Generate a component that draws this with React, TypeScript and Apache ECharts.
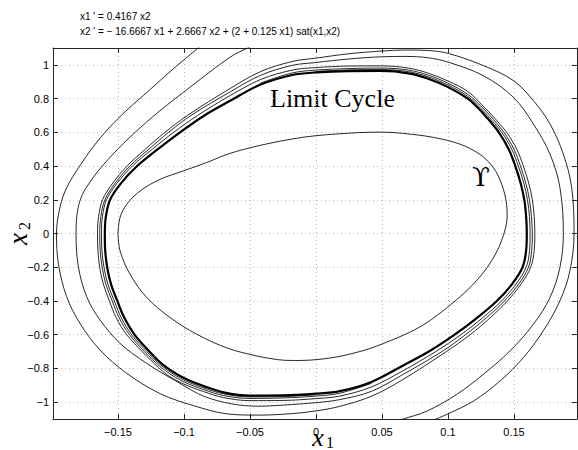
import React, { useEffect, useRef } from 'react';
import * as echarts from 'echarts';

const X_MIN = -0.19924;
const X_MAX = 0.19773;
const Y_MIN = -1.1;
const Y_MAX = 1.1;

const xTicks = [-0.15, -0.1, -0.05, 0, 0.05, 0.1, 0.15];
const xTickLabels = ['\u22120.15', '\u22120.1', '\u22120.05', '0', '0.05', '0.1', '0.15'];
const yTicks = [-1, -0.8, -0.6, -0.4, -0.2, 0, 0.2, 0.4, 0.6, 0.8, 1];
const yTickLabels = ['\u22121', '\u22120.8', '\u22120.6', '\u22120.4', '\u22120.2', '0', '0.2', '0.4', '0.6', '0.8', '1'];

const titleLines = [
  "x1 ' = 0.4167 x2",
  "x2 ' = \u2212 16.6667 x1 + 2.6667 x2 + (2 + 0.125 x1) sat(x1,x2)",
];

// limit cycle (thick)
const limitCycle: [number, number][] = [
  [-0.1600, 0.000], [-0.1592, 0.100], [-0.1560, 0.200], [-0.1475, 0.300], [-0.1355, 0.400],
  [-0.1198, 0.500], [-0.1030, 0.600], [-0.0845, 0.700], [-0.0650, 0.787], [-0.0420, 0.883],
  [-0.0180, 0.940], [0.0000, 0.955], [0.0250, 0.963], [0.0500, 0.964], [0.0700, 0.950],
  [0.0850, 0.918], [0.1000, 0.868], [0.1150, 0.800], [0.1220, 0.750], [0.1280, 0.700],
  [0.1385, 0.600], [0.1460, 0.500], [0.1510, 0.400], [0.1550, 0.300], [0.1578, 0.200],
  [0.1592, 0.100], [0.1597, 0.000], [0.1592, -0.100], [0.1565, -0.200], [0.1485, -0.300],
  [0.1370, -0.400], [0.1220, -0.500], [0.1050, -0.600], [0.0855, -0.700], [0.0650, -0.787],
  [0.0420, -0.880], [0.0180, -0.935], [0.0000, -0.950], [-0.0250, -0.960], [-0.0500, -0.961],
  [-0.0700, -0.942], [-0.0850, -0.905], [-0.1000, -0.857], [-0.1130, -0.795], [-0.1200, -0.750],
  [-0.1262, -0.700], [-0.1375, -0.600], [-0.1452, -0.500], [-0.1505, -0.400], [-0.1553, -0.300],
  [-0.1582, -0.200], [-0.1597, -0.100], [-0.1600, 0.000],
];

// inner closed curve (Upsilon)
const upsilonCurve: [number, number][] = [
  [-0.1500, 0.000], [-0.1485, 0.093], [-0.1434, 0.173], [-0.1333, 0.252], [-0.1182, 0.321],
  [-0.1005, 0.371], [-0.0828, 0.421], [-0.0660, 0.473], [-0.0437, 0.520], [-0.0184, 0.560],
  [0.0000, 0.580], [0.0320, 0.598], [0.0498, 0.601], [0.0655, 0.594], [0.0889, 0.570],
  [0.1090, 0.530], [0.1240, 0.470], [0.1343, 0.391], [0.1407, 0.292], [0.1444, 0.173],
  [0.1448, 0.104], [0.1436, 0.033], [0.1405, -0.044], [0.1360, -0.122], [0.1299, -0.199],
  [0.1227, -0.270], [0.1144, -0.338], [0.1045, -0.406], [0.0932, -0.477], [0.0811, -0.543],
  [0.0682, -0.596], [0.0545, -0.641], [0.0409, -0.682], [0.0273, -0.712], [0.0136, -0.735],
  [0.0000, -0.748], [-0.0121, -0.753], [-0.0235, -0.752], [-0.0348, -0.741], [-0.0462, -0.724],
  [-0.0670, -0.680], [-0.0904, -0.597], [-0.1106, -0.498], [-0.1283, -0.379], [-0.1410, -0.240],
  [-0.1485, -0.101], [-0.1500, 0.000],
];

// trajectory A: close to the cycle, leaves it at the upper left, exits at the bottom right
const trajA: [number, number][] = [
  [0.0000, 0.961], [0.0250, 0.970], [0.0500, 0.972], [0.0700, 0.960], [0.0850, 0.929],
  [0.1000, 0.880], [0.1150, 0.813], [0.1239, 0.750], [0.1300, 0.700], [0.1407, 0.600],
  [0.1483, 0.500], [0.1533, 0.400], [0.1574, 0.300], [0.1602, 0.200], [0.1617, 0.100],
  [0.1622, 0.000], [0.1618, -0.100], [0.1592, -0.200], [0.1515, -0.300], [0.1406, -0.400],
  [0.1262, -0.500], [0.1098, -0.600], [0.0907, -0.700], [0.0650, -0.818], [0.0420, -0.910],
  [0.0180, -0.964], [0.0000, -0.979], [-0.0250, -0.990], [-0.0500, -0.991], [-0.0700, -0.973],
  [-0.0850, -0.938], [-0.1000, -0.893], [-0.1130, -0.837], [-0.1253, -0.750], [-0.1317, -0.700],
  [-0.1434, -0.600], [-0.1513, -0.500], [-0.1565, -0.400], [-0.1611, -0.300], [-0.1639, -0.200],
  [-0.1652, -0.100], [-0.1655, 0.000], [-0.1647, 0.100], [-0.1617, 0.200], [-0.1539, 0.300],
  [-0.1431, 0.400], [-0.1293, 0.500], [-0.1144, 0.600], [-0.0974, 0.700], [-0.0650, 0.860],
  [-0.0420, 0.960], [-0.0180, 1.020], [0.0000, 1.040], [0.0250, 1.066], [0.0500, 1.082],
  [0.0674, 1.088], [0.0850, 1.085], [0.1002, 1.068], [0.1267, 0.996], [0.1495, 0.907],
  [0.1647, 0.788], [0.1773, 0.649], [0.1874, 0.470], [0.1937, 0.272], [0.1955, 0.000],
  [0.1924, -0.220], [0.1848, -0.399], [0.1722, -0.577], [0.1571, -0.736], [0.1394, -0.875],
  [0.1192, -0.994], [0.1015, -1.064], [0.0889, -1.107],
];

// trajectory B: close to the cycle, leaves it at the lower right, exits at the top left
const trajB: [number, number][] = [
  [0.0000, -0.956], [-0.0250, -0.967], [-0.0500, -0.969], [-0.0700, -0.951], [-0.0850, -0.916],
  [-0.1000, -0.869], [-0.1130, -0.808], [-0.1219, -0.750], [-0.1282, -0.700], [-0.1397, -0.600],
  [-0.1475, -0.500], [-0.1528, -0.400], [-0.1577, -0.300], [-0.1606, -0.200], [-0.1622, -0.100],
  [-0.1625, 0.000], [-0.1618, 0.100], [-0.1587, 0.200], [-0.1505, 0.300], [-0.1391, 0.400],
  [-0.1240, 0.500], [-0.1078, 0.600], [-0.0897, 0.700], [-0.0650, 0.818], [-0.0420, 0.913],
  [-0.0180, 0.969], [0.0000, 0.984], [0.0250, 0.993], [0.0500, 0.994], [0.0700, 0.981],
  [0.0850, 0.951], [0.1000, 0.904], [0.1150, 0.842], [0.1273, 0.750], [0.1335, 0.700],
  [0.1444, 0.600], [0.1521, 0.500], [0.1571, 0.400], [0.1611, 0.300], [0.1639, 0.200],
  [0.1653, 0.100], [0.1658, 0.000], [0.1653, -0.100], [0.1627, -0.200], [0.1553, -0.300],
  [0.1450, -0.400], [0.1319, -0.500], [0.1168, -0.600], [0.0988, -0.700], [0.0650, -0.870],
  [0.0420, -0.965], [0.0180, -1.025], [0.0000, -1.052], [-0.0180, -1.068], [-0.0440, -1.077],
  [-0.0670, -1.070], [-0.0930, -1.020], [-0.1180, -0.950], [-0.1434, -0.829], [-0.1636, -0.691],
  [-0.1788, -0.533], [-0.1889, -0.375], [-0.1952, -0.177], [-0.1966, 0.000], [-0.1939, 0.157],
  [-0.1886, 0.276], [-0.1795, 0.394], [-0.1689, 0.513], [-0.1568, 0.626], [-0.1432, 0.732],
  [-0.1265, 0.848], [-0.1091, 0.970], [-0.0894, 1.100], [-0.0860, 1.125],
];

// trajectory C
const trajC: [number, number][] = [
  [0.0420, -0.889], [0.0180, -0.947], [0.0000, -0.964], [-0.0250, -0.975], [-0.0500, -0.978],
  [-0.0700, -0.961], [-0.0850, -0.926], [-0.1000, -0.880], [-0.1130, -0.820], [-0.1236, -0.750],
  [-0.1300, -0.700], [-0.1413, -0.600], [-0.1491, -0.500], [-0.1544, -0.400], [-0.1592, -0.300],
  [-0.1620, -0.200], [-0.1635, -0.100], [-0.1638, 0.000], [-0.1630, 0.100], [-0.1599, 0.200],
  [-0.1520, 0.300], [-0.1410, 0.400], [-0.1266, 0.500], [-0.1117, 0.600], [-0.0947, 0.700],
  [-0.0650, 0.840], [-0.0420, 0.938], [-0.0180, 0.997], [0.0000, 1.014], [0.0250, 1.035],
  [0.0500, 1.048], [0.0674, 1.050], [0.0850, 1.042], [0.1002, 1.016], [0.1267, 0.936],
  [0.1495, 0.808], [0.1647, 0.649], [0.1773, 0.470], [0.1848, 0.272], [0.1874, 0.000],
  [0.1848, -0.200], [0.1773, -0.379], [0.1647, -0.538], [0.1470, -0.696], [0.1268, -0.835],
  [0.1066, -0.954], [0.0838, -1.054], [0.0649, -1.103], [0.0600, -1.118],
];

// trajectory D
const trajD: [number, number][] = [
  [-0.0420, 0.892], [-0.0180, 0.952], [0.0000, 0.969], [0.0250, 0.978], [0.0500, 0.981],
  [0.0700, 0.969], [0.0850, 0.939], [0.1000, 0.891], [0.1150, 0.825], [0.1256, 0.750],
  [0.1318, 0.700], [0.1423, 0.600], [0.1499, 0.500], [0.1549, 0.400], [0.1589, 0.300],
  [0.1617, 0.200], [0.1632, 0.100], [0.1639, 0.000], [0.1634, -0.100], [0.1610, -0.200],
  [0.1535, -0.300], [0.1428, -0.400], [0.1290, -0.500], [0.1133, -0.600], [0.0954, -0.700],
  [0.0650, -0.840], [0.0420, -0.936], [0.0180, -0.985], [0.0000, -1.003], [-0.0180, -1.014],
  [-0.0440, -1.024], [-0.0640, -1.010], [-0.0850, -0.965], [-0.1030, -0.889], [-0.1283, -0.770],
  [-0.1485, -0.651], [-0.1636, -0.513], [-0.1737, -0.375], [-0.1800, -0.197], [-0.1818, 0.000],
  [-0.1788, 0.195], [-0.1687, 0.333], [-0.1536, 0.472], [-0.1384, 0.590], [-0.1182, 0.728],
  [-0.0955, 0.867], [-0.0652, 1.045], [-0.0508, 1.104], [-0.0460, 1.120],
];

const thinTrajectories = [trajA, trajB, trajC, trajD];

const SANS = '"Liberation Sans", Arial, Helvetica, sans-serif';
const SERIF = '"Liberation Serif", "Times New Roman", serif';
const AXIS_COLOR = '#262626';

function labelFor(ticks: number[], labels: string[]) {
  return (v: number) => {
    const i = ticks.findIndex((t) => Math.abs(t - v) < 1e-6);
    return i >= 0 ? labels[i] : '';
  };
}

export default function App() {
  const ref = useRef<HTMLDivElement>(null);

  useEffect(() => {
    if (!ref.current) return;
    const chart = echarts.init(ref.current, undefined, { renderer: 'svg' });

    const axisLine = { show: true, onZero: false, lineStyle: { color: AXIS_COLOR, width: 1 } };
    const axisTick = { show: true, inside: true, length: 5, lineStyle: { color: AXIS_COLOR, width: 1 } };
    const splitLine = { show: true, lineStyle: { color: '#b8b8b8', width: 1, type: [1, 3] } };

    const curve = (d: [number, number][], width: number, color: string, z: number) => ({
      type: 'line',
      data: d,
      xAxisIndex: 0,
      yAxisIndex: 0,
      showSymbol: false,
      symbol: 'none',
      smooth: 0.35,
      clip: true,
      silent: true,
      lineStyle: { color, width },
      z,
    });

    chart.setOption({
      animation: false,
      backgroundColor: '#fff',
      grid: { left: 53, top: 48, width: 524, height: 371, outerBoundsMode: 'none' },
      xAxis: [
        {
          type: 'value', min: X_MIN, max: X_MAX, splitNumber: 8, position: 'bottom',
          axisLine, axisTick,
          axisLabel: {
            show: true, formatter: labelFor(xTicks, xTickLabels), color: '#000', fontSize: 11,
            fontFamily: SANS, margin: 7, showMinLabel: false, showMaxLabel: false,
          },
          splitLine,
        },
        {
          type: 'value', min: X_MIN, max: X_MAX, splitNumber: 8, position: 'top',
          axisLine, axisTick, axisLabel: { show: false }, splitLine: { show: false },
        },
      ],
      yAxis: [
        {
          type: 'value', min: Y_MIN, max: Y_MAX, splitNumber: 11, position: 'left',
          axisLine, axisTick,
          axisLabel: {
            show: true, formatter: labelFor(yTicks, yTickLabels), color: '#000', fontSize: 11,
            fontFamily: SANS, margin: 4, showMinLabel: false, showMaxLabel: false,
          },
          splitLine,
        },
        {
          type: 'value', min: Y_MIN, max: Y_MAX, splitNumber: 11, position: 'right',
          axisLine, axisTick, axisLabel: { show: false }, splitLine: { show: false },
        },
      ],
      series: [
        ...thinTrajectories.map((d) => curve(d, 0.9, '#111', 2)),
        curve(upsilonCurve, 0.9, '#111', 2),
        curve(limitCycle, 2.2, '#000', 3),
      ],
      graphic: [
        {
          type: 'text', x: 80, y: 16.5,
          style: { text: titleLines[0], fontSize: 10, fontFamily: SANS, fill: '#000', verticalAlign: 'middle' },
        },
        {
          type: 'text', x: 80, y: 31,
          style: { text: titleLines[1], fontSize: 10, fontFamily: SANS, fill: '#000', verticalAlign: 'middle' },
        },
        {
          type: 'text', x: 270, y: 98,
          style: { text: 'Limit Cycle', fontSize: 26, fontFamily: SERIF, fill: '#000', verticalAlign: 'middle' },
        },
        {
          type: 'text', x: 481, y: 177,
          style: { text: '\u03D2', fontSize: 26, fontFamily: '"DejaVu Serif", serif', fill: '#000', align: 'center', verticalAlign: 'middle' },
        },
        {
          type: 'text', x: 318, y: 450,
          style: { text: 'x', fontSize: 26, fontStyle: 'italic', fontFamily: SERIF, fill: '#000', align: 'center', verticalAlign: 'bottom' },
        },
        {
          type: 'text', x: 330, y: 450,
          style: { text: '1', fontSize: 16, fontFamily: SERIF, fill: '#000', align: 'center', verticalAlign: 'bottom' },
        },
        {
          type: 'group', x: 18, y: 232, rotation: Math.PI / 2,
          children: [
            {
              type: 'text', x: -7, y: 0,
              style: { text: 'x', fontSize: 27, fontStyle: 'italic', fontFamily: SERIF, fill: '#000', align: 'center', verticalAlign: 'middle' },
            },
            {
              type: 'text', x: 6, y: 6,
              style: { text: '2', fontSize: 16, fontFamily: SERIF, fill: '#000', align: 'center', verticalAlign: 'middle' },
            },
          ],
        },
      ],
    });

    return () => chart.dispose();
  }, []);

  return (
    <div
      ref={ref}
      style={{ position: 'absolute', left: 0, top: 0, width: 578, height: 450, background: '#fff' }}
    />
  );
}
